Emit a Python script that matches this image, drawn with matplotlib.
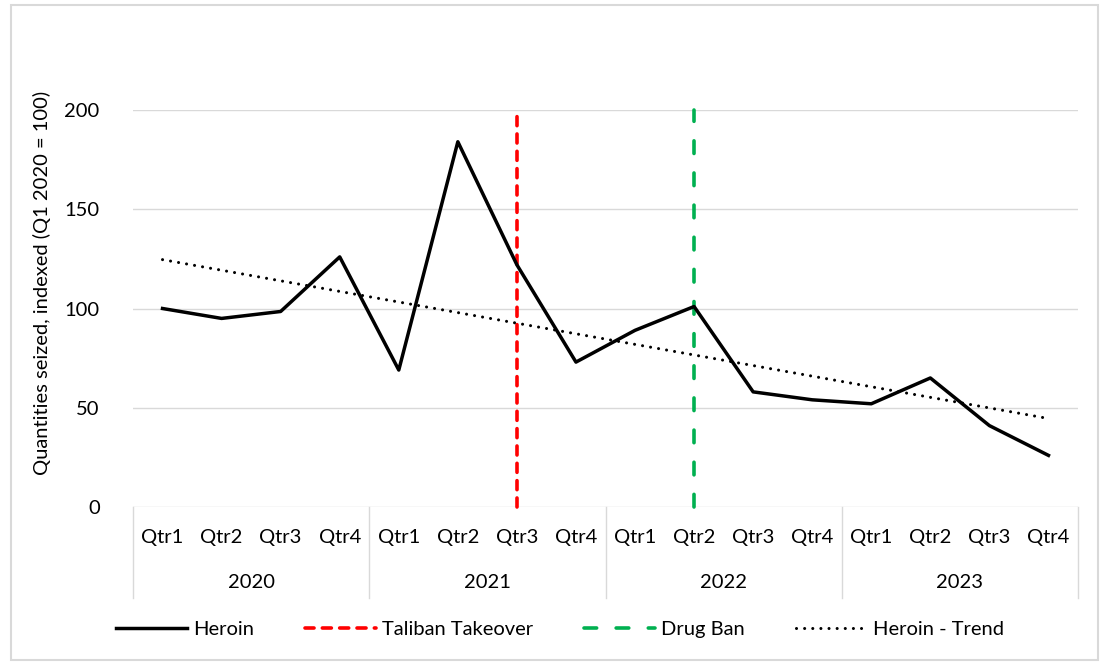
import numpy as np
import matplotlib.pyplot as plt
from matplotlib.patches import Rectangle

plt.rcParams['font.family'] = ['Lato', 'DejaVu Sans']

# данные
years = ['2020', '2021', '2022', '2023']
quarters = ['Qtr1', 'Qtr2', 'Qtr3', 'Qtr4']
heroin = [100, 95, 98.5, 126, 69, 184, 122, 73, 89, 101, 58, 54, 52, 65, 41, 26]
taliban_idx = 6   # Qtr3 2021
ban_idx = 9       # Qtr2 2022
yticks = [0, 50, 100, 150, 200]

# линия тренда, как в Excel (линейная регрессия по данным)
x = np.arange(len(heroin))
slope, icpt = np.polyfit(x, heroin, 1)
trend = slope * x + icpt

fs = 14.5
fig = plt.figure(figsize=(11.04, 6.64), dpi=100)
ax = fig.add_axes([133 / 1104, 1 - 507 / 664, 945 / 1104, 397 / 664])

grid_c = '#d9d9d9'
for y in yticks:
    ax.axhline(y, color=grid_c, lw=1.0, zorder=1)

ax.plot(x, heroin, color='black', lw=2.5, zorder=4, label='Heroin')
ax.plot([taliban_idx, taliban_idx], [0, 200], color='#ff0000', lw=2.6, dashes=(2.5, 2.3),
        dash_capstyle='round', zorder=3, clip_on=False, label='Taliban Takeover')
ax.plot([ban_idx, ban_idx], [0, 200], color='#00b050', lw=2.6, dashes=(3.5, 5.4),
        dash_capstyle='round', zorder=3, clip_on=False, label='Drug Ban')
ax.plot(x, trend, color='black', lw=2.2, dashes=(0.01, 2.65), dash_capstyle='round',
        zorder=5, label='Heroin - Trend')

ax.set_xlim(-0.5, len(heroin) - 0.5)
ax.set_ylim(0, 200)
for s in ax.spines.values():
    s.set_visible(False)
ax.set_xticks([])
ax.set_yticks(yticks)
ax.tick_params(axis='y', length=0, pad=24, labelsize=fs)

# двухуровневая ось категорий
tr = ax.get_xaxis_transform()
for i in range(len(heroin)):
    ax.text(i, -0.076, quarters[i % 4], transform=tr, ha='center', va='center', fontsize=fs)
for k, yr in enumerate(years):
    ax.text(4 * k + 1.5, -0.189, yr, transform=tr, ha='center', va='center', fontsize=fs)
for k in range(len(years) + 1):
    ax.plot([4 * k - 0.5] * 2, [0, -0.229], transform=tr, color=grid_c, lw=1.0, clip_on=False)

fig.text(42 / 1104, 1 - 283 / 664, 'Quantities seized, indexed (Q1 2020 = 100)',
         rotation=90, ha='center', va='center', fontsize=fs)

leg = fig.legend(loc='center', bbox_to_anchor=(560 / 1104, 1 - 629 / 664), ncol=4, frameon=False,
                 fontsize=fs, handlelength=3.5, handletextpad=0.3, columnspacing=2.55)

# рамка вокруг всей диаграммы
fig.patches.append(Rectangle((11 / 1104, 4 / 664), 1087 / 1104, 655 / 664,
                             transform=fig.transFigure, fill=False, edgecolor=grid_c, lw=1.5))

fig.savefig('out.png', dpi=100)
